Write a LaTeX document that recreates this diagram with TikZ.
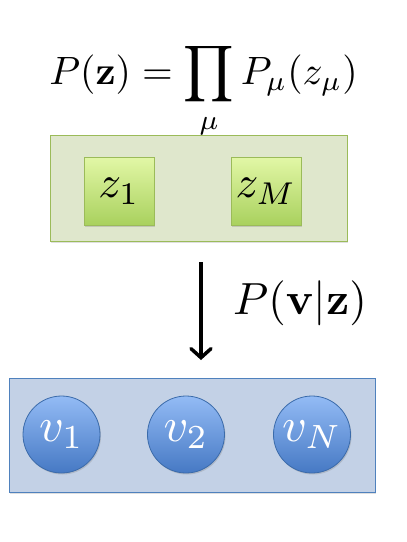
\documentclass[tikz,border=0pt]{standalone}
\usepackage{graphicx}
\usepackage{amsmath}
\usetikzlibrary{shadows,arrows.meta}
\definecolor{gfill}{HTML}{DFE7CC}
\definecolor{gedge}{HTML}{9BBB59}
\definecolor{gtop}{HTML}{E2F7A6}
\definecolor{gbot}{HTML}{A9D15E}
\definecolor{bfill}{HTML}{C3D1E6}
\definecolor{bedge}{HTML}{4F81BD}
\definecolor{btop}{HTML}{93BBF5}
\definecolor{bbot}{HTML}{4679C4}
\definecolor{cedge}{HTML}{3B6BAA}
\tikzset{
  greenbox/.style={draw=gedge, line width=1pt, fill=gfill, minimum width=297pt, minimum height=106pt, inner sep=0pt,
    drop shadow={shadow xshift=1pt, shadow yshift=-1.5pt, opacity=0.25}},
  zsq/.style={draw=gedge, line width=0.8pt, top color=gtop, bottom color=gbot, minimum width=70pt, minimum height=68pt, inner sep=0pt,
    drop shadow={shadow xshift=1pt, shadow yshift=-1.5pt, opacity=0.3}},
  bluebox/.style={draw=bedge, line width=1pt, fill=bfill, minimum width=366pt, minimum height=114pt, inner sep=0pt,
    drop shadow={shadow xshift=1pt, shadow yshift=-1.5pt, opacity=0.25}},
  vcirc/.style={circle, draw=cedge, line width=0.8pt, top color=btop, bottom color=bbot, minimum size=77pt, inner sep=0pt,
    text=white, drop shadow={shadow xshift=1pt, shadow yshift=-1.5pt, opacity=0.3}},
  arr/.style={-{Straight Barb[length=9pt,width=20pt,line cap=round]}, line width=3.5pt, black}
}
\begin{document}
\begin{tikzpicture}[x=1pt,y=-1pt]
\useasboundingbox (0,0) rectangle (407,542);
\node[anchor=center] (formula) at (203.5,91) {\scalebox{3.95}{$\displaystyle P(\mathbf{z})=\prod_{\mu}P_\mu(z_\mu)$}};
\node[greenbox] (gbox) at (198.5,188.5) {};
\node[zsq] (z1) at (119,191) {\scalebox{4.5}{$z_1$}};
\node[zsq] (zM) at (266,191) {\scalebox{4.5}{$z_M$}};
\node[bluebox] (bbox) at (192,435) {};
\node[vcirc] (v1) at (61.5,434.5) {\scalebox{4.8}{$v_1$}};
\node[vcirc] (v2) at (186,434.5) {\scalebox{4.8}{$v_2$}};
\node[vcirc] (vN) at (312,434.5) {\scalebox{4.8}{$v_N$}};
\coordinate (astart) at (201,262);
\coordinate (aend) at (201,360);
\draw[arr] (astart) -- (aend);
\node (plabel) at (300,303) {\scalebox{4.5}{$P(\mathbf{v}|\mathbf{z})$}};
\end{tikzpicture}
\end{document}
